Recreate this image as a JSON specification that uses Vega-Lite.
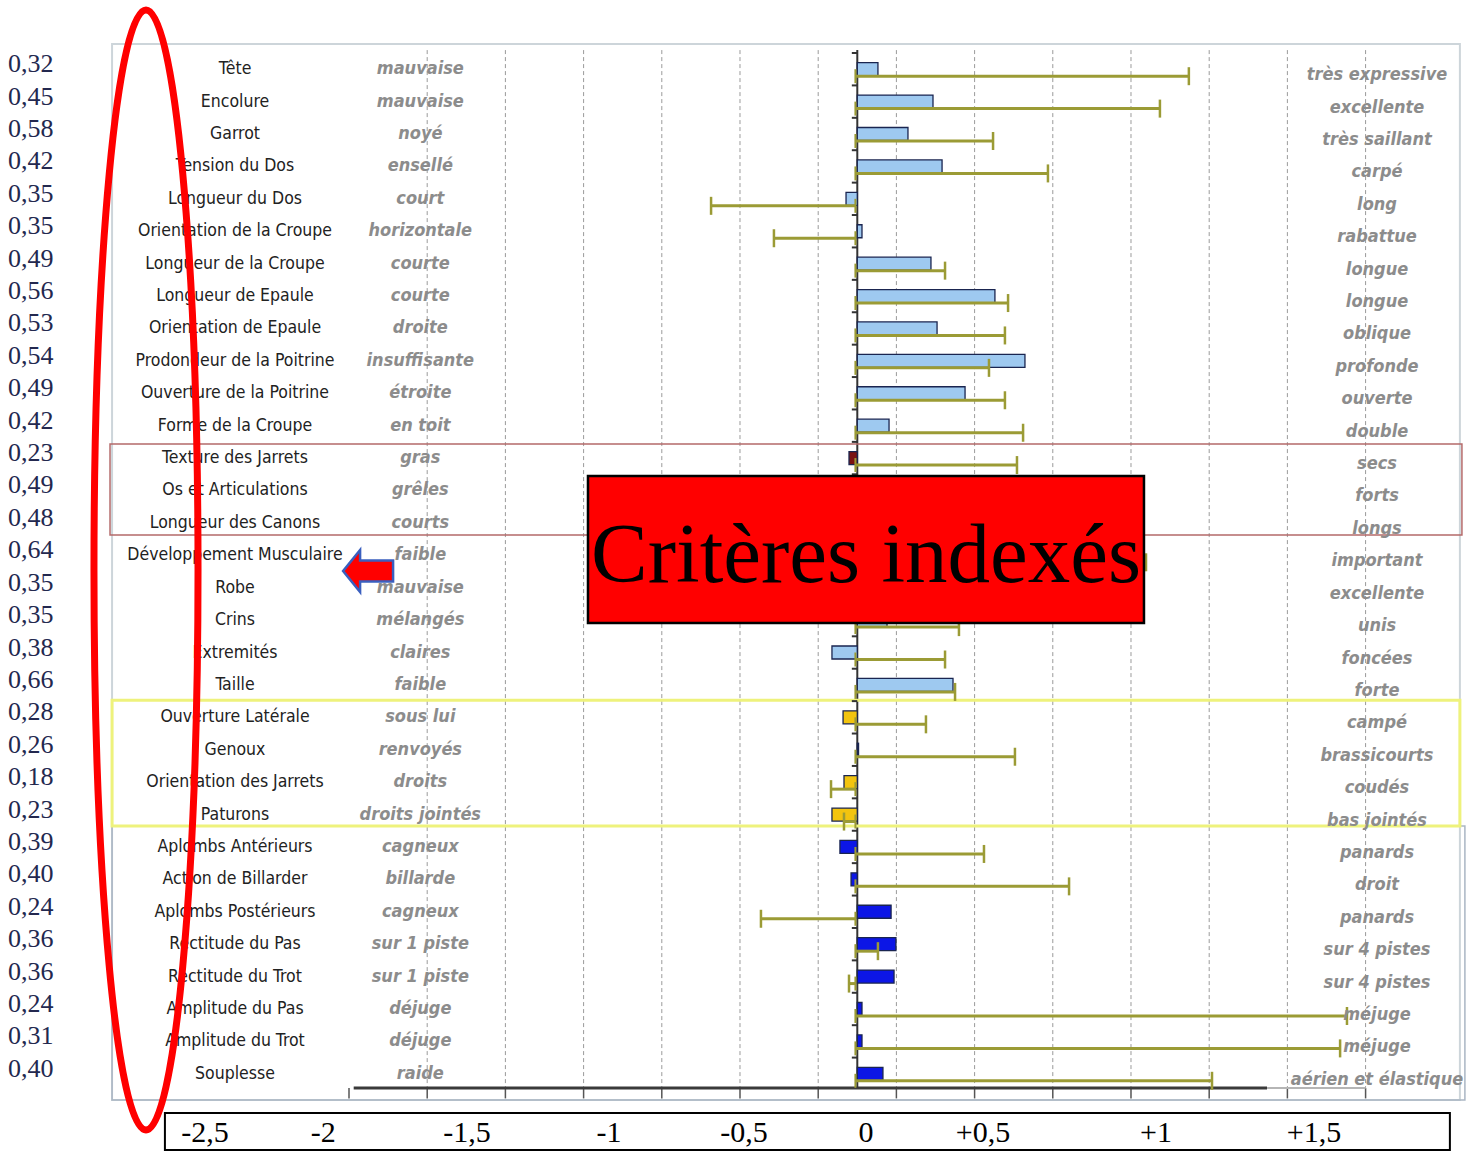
{
  "$schema": "https://vega.github.io/schema/vega-lite/v6.json",
  "width": 1470,
  "height": 1151,
  "autosize": "none",
  "padding": 0,
  "background": "white",
  "config": {
    "view": {"stroke": null},
    "locale": {"number": {"decimal": ",", "thousands": " ", "grouping": [3], "currency": ["", " €"]}}
  },
  "resolve": {"scale": {"y": "independent"}},
  "layer": [
    {
      "data": {"values": [{}]},
      "layer": [
        {
          "mark": {"type": "rect", "fill": "white", "fillOpacity": 0, "stroke": "#cdd5da", "strokeWidth": 2},
          "encoding": {
            "x": {"datum": -4.765, "type": "quantitative", "scale": {"domain": [-5.4815, 3.9176], "nice": false, "zero": false}, "axis": null},
            "x2": {"datum": 3.853},
            "y": {"datum": 0.222, "type": "quantitative", "scale": {"domain": [0.5, 32.5], "range": [53, 1090], "nice": false, "zero": false}, "axis": null},
            "y2": {"datum": 32.808}
          }
        },
        {
          "data": {"values": [{"v": -2.75}, {"v": -2.25}, {"v": -1.75}, {"v": -1.25}, {"v": -0.75}, {"v": -0.25}, {"v": 0.25}, {"v": 0.75}, {"v": 1.25}, {"v": 1.75}, {"v": 2.25}, {"v": 2.75}, {"v": 3.25}]},
          "mark": {"type": "rule", "stroke": "#9a9a9a", "strokeWidth": 1, "strokeDash": [4, 3]},
          "encoding": {
            "x": {"field": "v", "type": "quantitative", "scale": {"domain": [-5.4815, 3.9176], "nice": false, "zero": false}, "axis": null},
            "y": {"datum": 0.41, "type": "quantitative", "scale": {"domain": [0.5, 32.5], "range": [53, 1090], "nice": false, "zero": false}, "axis": null},
            "y2": {"datum": 32.44}
          }
        },
        {
          "data": {"values": [{"v": -3.25}, {"v": -2.75}, {"v": -2.25}, {"v": -1.75}, {"v": -1.25}, {"v": -0.75}, {"v": -0.25}, {"v": 0.25}, {"v": 0.75}, {"v": 1.25}, {"v": 1.75}, {"v": 2.25}, {"v": 2.75}, {"v": 3.25}]},
          "mark": {"type": "rule", "stroke": "#555555", "strokeWidth": 1.5},
          "encoding": {
            "x": {"field": "v", "type": "quantitative", "scale": {"domain": [-5.4815, 3.9176], "nice": false, "zero": false}, "axis": null},
            "y": {"datum": 32.44, "type": "quantitative", "scale": {"domain": [0.5, 32.5], "range": [53, 1090], "nice": false, "zero": false}, "axis": null},
            "y2": {"datum": 32.76}
          }
        },
        {
          "mark": {"type": "rule", "stroke": "#3a3a3a", "strokeWidth": 3},
          "encoding": {
            "x": {"datum": -3.22, "type": "quantitative", "scale": {"domain": [-5.4815, 3.9176], "nice": false, "zero": false}, "axis": null},
            "x2": {"datum": 2.62},
            "y": {"datum": 32.44, "type": "quantitative", "scale": {"domain": [0.5, 32.5], "range": [53, 1090], "nice": false, "zero": false}, "axis": null}
          }
        },
        {
          "mark": {"type": "rule", "stroke": "#b5b5b5", "strokeWidth": 2},
          "encoding": {
            "x": {"datum": 2.62, "type": "quantitative", "scale": {"domain": [-5.4815, 3.9176], "nice": false, "zero": false}, "axis": null},
            "x2": {"datum": 3.25},
            "y": {"datum": 32.44, "type": "quantitative", "scale": {"domain": [0.5, 32.5], "range": [53, 1090], "nice": false, "zero": false}, "axis": null}
          }
        },
        {
          "mark": {"type": "rule", "stroke": "#333333", "strokeWidth": 2},
          "encoding": {
            "x": {"datum": 0, "type": "quantitative", "scale": {"domain": [-5.4815, 3.9176], "nice": false, "zero": false}, "axis": null},
            "y": {"datum": 0.41, "type": "quantitative", "scale": {"domain": [0.5, 32.5], "range": [53, 1090], "nice": false, "zero": false}, "axis": null},
            "y2": {"datum": 32.44}
          }
        },
        {
          "mark": {"type": "rect", "fill": "white", "fillOpacity": 0, "stroke": "#aab6c4", "strokeWidth": 1.5},
          "encoding": {
            "x": {"datum": -4.765, "type": "quantitative", "scale": {"domain": [-5.4815, 3.9176], "nice": false, "zero": false}, "axis": null},
            "x2": {"datum": 3.885},
            "y": {"datum": 24.35, "type": "quantitative", "scale": {"domain": [0.5, 32.5], "range": [53, 1090], "nice": false, "zero": false}, "axis": null},
            "y2": {"datum": 32.808}
          }
        },
        {
          "mark": {"type": "rect", "fill": "white", "fillOpacity": 0, "stroke": "#b46a6a", "strokeWidth": 1.5},
          "encoding": {
            "x": {"datum": -4.778, "type": "quantitative", "scale": {"domain": [-5.4815, 3.9176], "nice": false, "zero": false}, "axis": null},
            "x2": {"datum": 3.866},
            "y": {"datum": 12.565, "type": "quantitative", "scale": {"domain": [0.5, 32.5], "range": [53, 1090], "nice": false, "zero": false}, "axis": null},
            "y2": {"datum": 15.37}
          }
        },
        {
          "mark": {"type": "rect", "fill": "white", "fillOpacity": 0, "stroke": "#eef27c", "strokeWidth": 3},
          "encoding": {
            "x": {"datum": -4.765, "type": "quantitative", "scale": {"domain": [-5.4815, 3.9176], "nice": false, "zero": false}, "axis": null},
            "x2": {"datum": 3.853},
            "y": {"datum": 20.47, "type": "quantitative", "scale": {"domain": [0.5, 32.5], "range": [53, 1090], "nice": false, "zero": false}, "axis": null},
            "y2": {"datum": 24.35}
          }
        }
      ]
    },
    {
      "data": {"values": [
        {"critere": "Tête", "gauche": "mauvaise", "droite": "très expressive", "indice": 0.132, "ecart": 2.12, "poids": 0.32, "groupe": "conformation"},
        {"critere": "Encolure", "gauche": "mauvaise", "droite": "excellente", "indice": 0.484, "ecart": 1.935, "poids": 0.45, "groupe": "conformation"},
        {"critere": "Garrot", "gauche": "noyé", "droite": "très saillant", "indice": 0.324, "ecart": 0.868, "poids": 0.58, "groupe": "conformation"},
        {"critere": "Tension du Dos", "gauche": "ensellé", "droite": "carpé", "indice": 0.542, "ecart": 1.219, "poids": 0.42, "groupe": "conformation"},
        {"critere": "Longueur du Dos", "gauche": "court", "droite": "long", "indice": -0.072, "ecart": -0.935, "poids": 0.35, "groupe": "conformation"},
        {"critere": "Orientation de la Croupe", "gauche": "horizontale", "droite": "rabattue", "indice": 0.03, "ecart": -0.533, "poids": 0.35, "groupe": "conformation"},
        {"critere": "Longueur de la Croupe", "gauche": "courte", "droite": "longue", "indice": 0.471, "ecart": 0.561, "poids": 0.49, "groupe": "conformation"},
        {"critere": "Longueur de Epaule", "gauche": "courte", "droite": "longue", "indice": 0.88, "ecart": 0.964, "poids": 0.56, "groupe": "conformation"},
        {"critere": "Orientation de Epaule", "gauche": "droite", "droite": "oblique", "indice": 0.51, "ecart": 0.944, "poids": 0.53, "groupe": "conformation"},
        {"critere": "Prodondeur de la Poitrine", "gauche": "insuffisante", "droite": "profonde", "indice": 1.072, "ecart": 0.842, "poids": 0.54, "groupe": "conformation"},
        {"critere": "Ouverture de la Poitrine", "gauche": "étroite", "droite": "ouverte", "indice": 0.689, "ecart": 0.944, "poids": 0.49, "groupe": "conformation"},
        {"critere": "Forme de la Croupe", "gauche": "en toit", "droite": "double", "indice": 0.203, "ecart": 1.06, "poids": 0.42, "groupe": "conformation"},
        {"critere": "Texture des Jarrets", "gauche": "gras", "droite": "secs", "indice": -0.053, "ecart": 1.021, "poids": 0.23, "groupe": "squelette"},
        {"critere": "Os et Articulations", "gauche": "grêles", "droite": "forts", "indice": -0.03, "ecart": 0.8, "poids": 0.49, "groupe": "squelette"},
        {"critere": "Longueur des Canons", "gauche": "courts", "droite": "longs", "indice": 0.05, "ecart": 0.9, "poids": 0.48, "groupe": "squelette"},
        {"critere": "Développement Musculaire", "gauche": "faible", "droite": "important", "indice": 0.5, "ecart": 1.846, "poids": 0.64, "groupe": "général"},
        {"critere": "Robe", "gauche": "mauvaise", "droite": "excellente", "indice": 0.1, "ecart": 0.6, "poids": 0.35, "groupe": "général"},
        {"critere": "Crins", "gauche": "mélangés", "droite": "unis", "indice": 0.19, "ecart": 0.65, "poids": 0.35, "groupe": "général"},
        {"critere": "Extremités", "gauche": "claires", "droite": "foncées", "indice": -0.162, "ecart": 0.561, "poids": 0.38, "groupe": "général"},
        {"critere": "Taille", "gauche": "faible", "droite": "forte", "indice": 0.612, "ecart": 0.625, "poids": 0.66, "groupe": "général"},
        {"critere": "Ouverture Latérale", "gauche": "sous lui", "droite": "campé", "indice": -0.091, "ecart": 0.439, "poids": 0.28, "groupe": "membres"},
        {"critere": "Genoux", "gauche": "renvoyés", "droite": "brassicourts", "indice": 0.008, "ecart": 1.008, "poids": 0.26, "groupe": "membres"},
        {"critere": "Orientation des Jarrets", "gauche": "droits", "droite": "coudés", "indice": -0.085, "ecart": -0.168, "poids": 0.18, "groupe": "membres"},
        {"critere": "Paturons", "gauche": "droits jointés", "droite": "bas jointés", "indice": -0.162, "ecart": -0.085, "poids": 0.23, "groupe": "membres"},
        {"critere": "Aplombs Antérieurs", "gauche": "cagneux", "droite": "panards", "indice": -0.111, "ecart": 0.81, "poids": 0.39, "groupe": "allures"},
        {"critere": "Action de Billarder", "gauche": "billarde", "droite": "droit", "indice": -0.04, "ecart": 1.354, "poids": 0.40, "groupe": "allures"},
        {"critere": "Aplombs Postérieurs", "gauche": "cagneux", "droite": "panards", "indice": 0.216, "ecart": -0.616, "poids": 0.24, "groupe": "allures"},
        {"critere": "Rectitude du Pas", "gauche": "sur 1 piste", "droite": "sur 4 pistes", "indice": 0.247, "ecart": 0.132, "poids": 0.36, "groupe": "allures"},
        {"critere": "Rectitude du Trot", "gauche": "sur 1 piste", "droite": "sur 4 pistes", "indice": 0.235, "ecart": -0.053, "poids": 0.36, "groupe": "allures"},
        {"critere": "Amplitude du Pas", "gauche": "déjuge", "droite": "méjuge", "indice": 0.03, "ecart": 3.131, "poids": 0.24, "groupe": "allures"},
        {"critere": "Amplitude du Trot", "gauche": "déjuge", "droite": "méjuge", "indice": 0.03, "ecart": 3.087, "poids": 0.31, "groupe": "allures"},
        {"critere": "Souplesse", "gauche": "raide", "droite": "aérien et élastique", "indice": 0.164, "ecart": 2.268, "poids": 0.40, "groupe": "allures"}
      ]},
      "encoding": {
        "y": {"field": "critere", "type": "nominal", "sort": null, "scale": {"range": [53, 1090], "paddingInner": 0, "paddingOuter": 0}, "axis": null}
      },
      "layer": [
        {
          "mark": {"type": "rule", "stroke": "#333333", "strokeWidth": 2},
          "encoding": {
            "x": {"datum": -0.035, "type": "quantitative", "scale": {"domain": [-5.4815, 3.9176], "nice": false, "zero": false}, "axis": null},
            "x2": {"datum": 0},
            "y": {"field": "critere", "type": "nominal", "sort": null, "bandPosition": 0, "scale": {"range": [53, 1090], "paddingInner": 0, "paddingOuter": 0}, "axis": null}
          }
        },
        {
          "mark": {"type": "bar", "height": 13, "stroke": "#1a2550", "strokeWidth": 1.3},
          "encoding": {
            "x": {"field": "indice", "type": "quantitative", "scale": {"domain": [-5.4815, 3.9176], "nice": false, "zero": false}, "axis": null},
            "x2": {"datum": 0},
            "color": {"field": "groupe", "type": "nominal", "legend": null,
              "scale": {"domain": ["conformation", "squelette", "général", "membres", "allures"], "range": ["#9ec9f0", "#7b1212", "#9ec9f0", "#f2c40f", "#0c16e6"]}}
          }
        },
        {
          "mark": {"type": "rule", "stroke": "#9b9b35", "strokeWidth": 3, "yOffset": 7},
          "encoding": {
            "x": {"field": "ecart", "type": "quantitative", "scale": {"domain": [-5.4815, 3.9176], "nice": false, "zero": false}, "axis": null},
            "x2": {"datum": -0.012}
          }
        },
        {
          "mark": {"type": "tick", "color": "#9b9b35", "opacity": 1, "size": 18, "thickness": 2.5, "yOffset": 7},
          "encoding": {
            "x": {"field": "ecart", "type": "quantitative", "scale": {"domain": [-5.4815, 3.9176], "nice": false, "zero": false}, "axis": null}
          }
        },
        {
          "mark": {"type": "tick", "color": "#9b9b35", "opacity": 1, "size": 14, "thickness": 2, "yOffset": 7},
          "encoding": {
            "x": {"datum": -0.012, "type": "quantitative", "scale": {"domain": [-5.4815, 3.9176], "nice": false, "zero": false}, "axis": null}
          }
        },
        {
          "mark": {"type": "text", "align": "left", "baseline": "middle", "dy": -5, "font": "Liberation Serif", "fontSize": 26, "fill": "#23284f"},
          "encoding": {
            "x": {"datum": -5.43, "type": "quantitative", "scale": {"domain": [-5.4815, 3.9176], "nice": false, "zero": false}, "axis": null},
            "text": {"field": "poids", "type": "quantitative", "format": ".2f"}
          }
        },
        {
          "mark": {"type": "text", "align": "center", "baseline": "middle", "font": "DejaVu Sans Condensed", "fontSize": 17.5, "fill": "#222222"},
          "encoding": {
            "x": {"datum": -3.979, "type": "quantitative", "scale": {"domain": [-5.4815, 3.9176], "nice": false, "zero": false}, "axis": null},
            "text": {"field": "critere", "type": "nominal"}
          }
        },
        {
          "mark": {"type": "text", "align": "center", "baseline": "middle", "dy": 0, "font": "DejaVu Sans Condensed", "fontSize": 18, "fontStyle": "italic", "fontWeight": "bold", "fill": "#8c8c8c"},
          "encoding": {
            "x": {"datum": -2.794, "type": "quantitative", "scale": {"domain": [-5.4815, 3.9176], "nice": false, "zero": false}, "axis": null},
            "text": {"field": "gauche", "type": "nominal"}
          }
        },
        {
          "mark": {"type": "text", "align": "center", "baseline": "middle", "dy": 6, "font": "DejaVu Sans Condensed", "fontSize": 18, "fontStyle": "italic", "fontWeight": "bold", "fill": "#8c8c8c"},
          "encoding": {
            "x": {"datum": 3.323, "type": "quantitative", "scale": {"domain": [-5.4815, 3.9176], "nice": false, "zero": false}, "axis": null},
            "text": {"field": "droite", "type": "nominal"}
          }
        }
      ]
    },
    {
      "data": {"values": [{}]},
      "layer": [
        {
          "mark": {"type": "rect", "fill": "#ff0000", "stroke": "#000000", "strokeWidth": 2.5},
          "encoding": {
            "x": {"datum": -1.722, "type": "quantitative", "scale": {"domain": [-5.4815, 3.9176], "nice": false, "zero": false}, "axis": null},
            "x2": {"datum": 1.833},
            "y": {"datum": 13.553, "type": "quantitative", "scale": {"domain": [0.5, 32.5], "range": [53, 1090], "nice": false, "zero": false}, "axis": null},
            "y2": {"datum": 18.089}
          }
        },
        {
          "mark": {"type": "text", "align": "center", "baseline": "alphabetic", "font": "Liberation Serif", "fontSize": 85, "fill": "#000000", "text": "Critères indexés"},
          "encoding": {
            "x": {"datum": 0.056, "type": "quantitative", "scale": {"domain": [-5.4815, 3.9176], "nice": false, "zero": false}, "axis": null},
            "y": {"datum": 16.824, "type": "quantitative", "scale": {"domain": [0.5, 32.5], "range": [53, 1090], "nice": false, "zero": false}, "axis": null}
          }
        },
        {
          "mark": {"type": "point", "shape": "M -1 0 L -0.32 -0.84 L -0.32 -0.42 L 1 -0.42 L 1 0.42 L -0.32 0.42 L -0.32 0.84 Z", "size": 2500, "filled": true, "fill": "#ff0000", "stroke": "#3a5fbf", "strokeWidth": 2.5, "opacity": 1},
          "encoding": {
            "x": {"datum": -3.128, "type": "quantitative", "scale": {"domain": [-5.4815, 3.9176], "nice": false, "zero": false}, "axis": null},
            "y": {"datum": 16.485, "type": "quantitative", "scale": {"domain": [0.5, 32.5], "range": [53, 1090], "nice": false, "zero": false}, "axis": null}
          }
        },
        {
          "mark": {"type": "point", "shape": "M 0 -1 C 0.0513 -1 0.0929 -0.5523 0.0929 0 C 0.0929 0.5523 0.0513 1 0 1 C -0.0513 1 -0.0929 0.5523 -0.0929 0 C -0.0929 -0.5523 -0.0513 -1 0 -1 Z", "size": 1254400, "filled": false, "stroke": "#ff0000", "strokeWidth": 7, "opacity": 1},
          "encoding": {
            "x": {"datum": -4.548, "type": "quantitative", "scale": {"domain": [-5.4815, 3.9176], "nice": false, "zero": false}, "axis": null},
            "y": {"datum": 16.454, "type": "quantitative", "scale": {"domain": [0.5, 32.5], "range": [53, 1090], "nice": false, "zero": false}, "axis": null}
          }
        },
        {
          "mark": {"type": "rect", "fill": "#ffffff", "stroke": "#000000", "strokeWidth": 2},
          "encoding": {
            "x": {"datum": -4.427, "type": "quantitative", "scale": {"domain": [-5.4815, 3.9176], "nice": false, "zero": false}, "axis": null},
            "x2": {"datum": 3.789},
            "y": {"datum": 33.21, "type": "quantitative", "scale": {"domain": [0.5, 32.5], "range": [53, 1090], "nice": false, "zero": false}, "axis": null},
            "y2": {"datum": 34.35}
          }
        },
        {"mark": {"type": "text", "align": "center", "baseline": "alphabetic", "font": "Liberation Serif", "fontSize": 30, "fill": "#000000", "text": "-2,5"},
         "encoding": {"x": {"datum": -4.171, "type": "quantitative", "scale": {"domain": [-5.4815, 3.9176], "nice": false, "zero": false}, "axis": null}, "y": {"datum": 34.105, "type": "quantitative", "scale": {"domain": [0.5, 32.5], "range": [53, 1090], "nice": false, "zero": false}, "axis": null}}},
        {"mark": {"type": "text", "align": "center", "baseline": "alphabetic", "font": "Liberation Serif", "fontSize": 30, "fill": "#000000", "text": "-2"},
         "encoding": {"x": {"datum": -3.414, "type": "quantitative", "scale": {"domain": [-5.4815, 3.9176], "nice": false, "zero": false}, "axis": null}, "y": {"datum": 34.105, "type": "quantitative", "scale": {"domain": [0.5, 32.5], "range": [53, 1090], "nice": false, "zero": false}, "axis": null}}},
        {"mark": {"type": "text", "align": "center", "baseline": "alphabetic", "font": "Liberation Serif", "fontSize": 30, "fill": "#000000", "text": "-1,5"},
         "encoding": {"x": {"datum": -2.496, "type": "quantitative", "scale": {"domain": [-5.4815, 3.9176], "nice": false, "zero": false}, "axis": null}, "y": {"datum": 34.105, "type": "quantitative", "scale": {"domain": [0.5, 32.5], "range": [53, 1090], "nice": false, "zero": false}, "axis": null}}},
        {"mark": {"type": "text", "align": "center", "baseline": "alphabetic", "font": "Liberation Serif", "fontSize": 30, "fill": "#000000", "text": "-1"},
         "encoding": {"x": {"datum": -1.588, "type": "quantitative", "scale": {"domain": [-5.4815, 3.9176], "nice": false, "zero": false}, "axis": null}, "y": {"datum": 34.105, "type": "quantitative", "scale": {"domain": [0.5, 32.5], "range": [53, 1090], "nice": false, "zero": false}, "axis": null}}},
        {"mark": {"type": "text", "align": "center", "baseline": "alphabetic", "font": "Liberation Serif", "fontSize": 30, "fill": "#000000", "text": "-0,5"},
         "encoding": {"x": {"datum": -0.724, "type": "quantitative", "scale": {"domain": [-5.4815, 3.9176], "nice": false, "zero": false}, "axis": null}, "y": {"datum": 34.105, "type": "quantitative", "scale": {"domain": [0.5, 32.5], "range": [53, 1090], "nice": false, "zero": false}, "axis": null}}},
        {"mark": {"type": "text", "align": "center", "baseline": "alphabetic", "font": "Liberation Serif", "fontSize": 30, "fill": "#000000", "text": "0"},
         "encoding": {"x": {"datum": 0.056, "type": "quantitative", "scale": {"domain": [-5.4815, 3.9176], "nice": false, "zero": false}, "axis": null}, "y": {"datum": 34.105, "type": "quantitative", "scale": {"domain": [0.5, 32.5], "range": [53, 1090], "nice": false, "zero": false}, "axis": null}}},
        {"mark": {"type": "text", "align": "center", "baseline": "alphabetic", "font": "Liberation Serif", "fontSize": 30, "fill": "#000000", "text": "+0,5"},
         "encoding": {"x": {"datum": 0.804, "type": "quantitative", "scale": {"domain": [-5.4815, 3.9176], "nice": false, "zero": false}, "axis": null}, "y": {"datum": 34.105, "type": "quantitative", "scale": {"domain": [0.5, 32.5], "range": [53, 1090], "nice": false, "zero": false}, "axis": null}}},
        {"mark": {"type": "text", "align": "center", "baseline": "alphabetic", "font": "Liberation Serif", "fontSize": 30, "fill": "#000000", "text": "+1"},
         "encoding": {"x": {"datum": 1.91, "type": "quantitative", "scale": {"domain": [-5.4815, 3.9176], "nice": false, "zero": false}, "axis": null}, "y": {"datum": 34.105, "type": "quantitative", "scale": {"domain": [0.5, 32.5], "range": [53, 1090], "nice": false, "zero": false}, "axis": null}}},
        {"mark": {"type": "text", "align": "center", "baseline": "alphabetic", "font": "Liberation Serif", "fontSize": 30, "fill": "#000000", "text": "+1,5"},
         "encoding": {"x": {"datum": 2.92, "type": "quantitative", "scale": {"domain": [-5.4815, 3.9176], "nice": false, "zero": false}, "axis": null}, "y": {"datum": 34.105, "type": "quantitative", "scale": {"domain": [0.5, 32.5], "range": [53, 1090], "nice": false, "zero": false}, "axis": null}}}
      ]
    }
  ]
}
